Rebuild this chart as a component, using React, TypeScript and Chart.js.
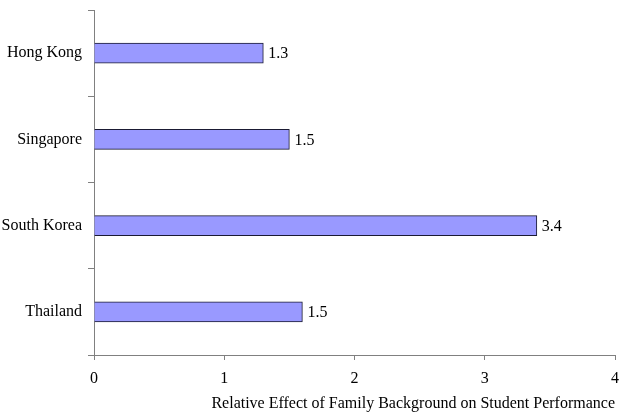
import React, { useEffect, useRef } from "react";
import { Chart, registerables } from "chart.js";

Chart.register(...registerables);

const categories = ["Hong Kong", "Singapore", "South Korea", "Thailand"];
const values = [1.3, 1.5, 3.4, 1.6];
const valueLabels = ["1.3", "1.5", "3.4", "1.5"];
const xMin = 0;
const xMax = 4;
const xStep = 1;
const axisTitle = "Relative Effect of Family Background on Student Performance";

const FONT = '"Liberation Serif", "Times New Roman", serif';
const AXIS_COLOR = "#808080";

const valueLabelPlugin = {
  id: "valueLabels",
  afterDatasetsDraw(chart: any) {
    const { ctx } = chart;
    const meta = chart.getDatasetMeta(0);
    ctx.save();
    ctx.font = `16px ${FONT}`;
    ctx.fillStyle = "#000";
    ctx.textAlign = "left";
    ctx.textBaseline = "middle";
    meta.data.forEach((bar: any, i: number) => {
      ctx.fillText(valueLabels[i], bar.x + 5, bar.y + 1);
    });
    ctx.restore();
  },
};

export default function App() {
  const ref = useRef<HTMLCanvasElement>(null);
  useEffect(() => {
    if (!ref.current) return;
    const chart = new Chart(ref.current, {
      type: "bar",
      data: {
        labels: categories,
        datasets: [
          {
            data: values,
            backgroundColor: "#9999FF",
            borderColor: "#1a1a33",
            borderWidth: 1,
            barThickness: 20,
          },
        ],
      },
      options: {
        indexAxis: "y",
        animation: false,
        responsive: true,
        maintainAspectRatio: false,
        layout: { padding: { top: 10, right: 6, left: 0, bottom: 0 } },
        plugins: { legend: { display: false }, tooltip: { enabled: false } },
        scales: {
          y: {
            type: "category",
            grid: {
              display: true,
              drawOnChartArea: false,
              drawTicks: true,
              tickLength: 6,
              color: AXIS_COLOR,
              lineWidth: 1,
            },
            border: { display: true, color: AXIS_COLOR, width: 1 },
            ticks: { font: { family: FONT, size: 16 }, color: "#000", padding: 6 },
            afterFit: (s: any) => {
              s.width = 94;
              s.paddingTop = 0;
              s.paddingBottom = 0;
            },
          },
          x: {
            type: "linear",
            min: xMin,
            max: xMax,
            ticks: {
              stepSize: xStep,
              font: { family: FONT, size: 16 },
              color: "#000",
              padding: 9,
            },
            grid: {
              display: true,
              drawOnChartArea: false,
              drawTicks: true,
              tickLength: 5,
              color: AXIS_COLOR,
              lineWidth: 1,
            },
            border: { display: true, color: AXIS_COLOR, width: 1 },
            title: {
              display: true,
              text: axisTitle,
              align: "end",
              color: "#000",
              font: { family: FONT, size: 16 },
              padding: { top: 0, bottom: 7 },
            },
            afterFit: (s: any) => {
              s.height = 65;
              s.paddingLeft = 0;
              s.paddingRight = 0;
            },
          },
        },
      } as any,
      plugins: [valueLabelPlugin],
    });
    return () => chart.destroy();
  }, []);
  return (
    <div style={{ position: "fixed", left: 0, top: 0, width: 621, height: 420, background: "#fff" }}>
      <canvas ref={ref} />
    </div>
  );
}
